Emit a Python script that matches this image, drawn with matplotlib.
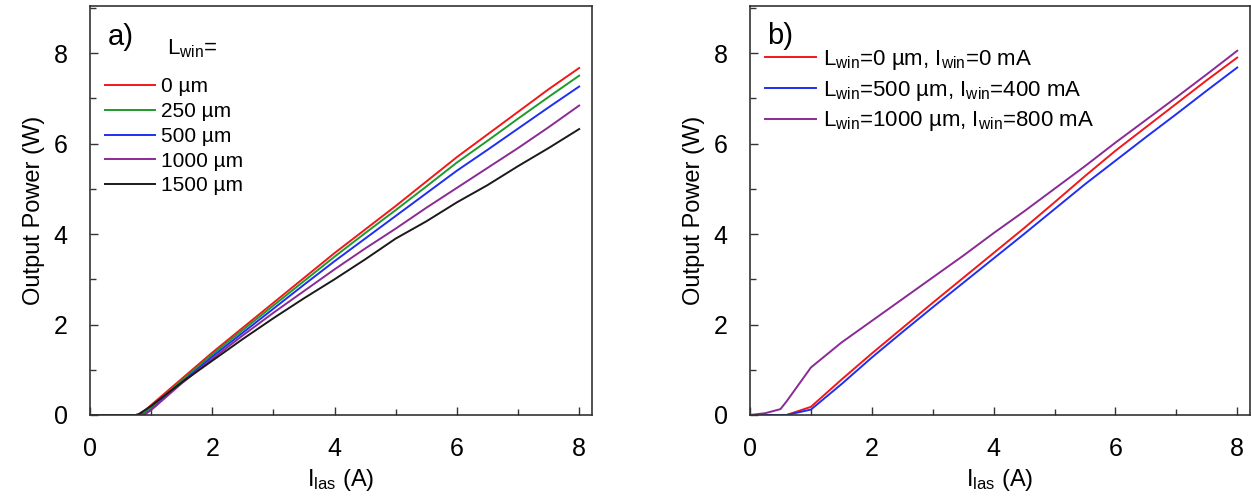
import matplotlib
matplotlib.use("Agg")
import matplotlib.pyplot as plt
from matplotlib.ticker import MultipleLocator

plt.rcParams['font.family'] = ['Liberation Sans', 'DejaVu Sans']
plt.rcParams['mathtext.fontset'] = 'custom'
plt.rcParams['mathtext.rm'] = 'Liberation Sans'
plt.rcParams['mathtext.it'] = 'Liberation Sans'
plt.rcParams['mathtext.default'] = 'regular'

# ---------------- Panel a data ----------------
x_a = [0, 0.5, 0.75, 0.8, 0.9, 1.0, 1.5, 2, 2.5, 3, 3.5, 4, 4.5, 5, 5.5, 6, 6.5, 7, 7.5, 8]
p_0um    = [0, 0, 0, 0.02, 0.10, 0.22, 0.80, 1.38, 1.93, 2.48, 3.03, 3.58, 4.10, 4.62, 5.16, 5.70, 6.20, 6.70, 7.20, 7.67]
p_250um  = [0, 0, 0, 0, 0.06, 0.17, 0.76, 1.34, 1.88, 2.42, 2.96, 3.50, 4.02, 4.53, 5.05, 5.58, 6.06, 6.55, 7.03, 7.50]
p_500um  = [0, 0, 0, 0, 0.02, 0.12, 0.72, 1.29, 1.82, 2.35, 2.88, 3.40, 3.90, 4.40, 4.90, 5.40, 5.86, 6.33, 6.80, 7.26]
p_1000um = [0, 0, 0, 0, 0.02, 0.11, 0.70, 1.24, 1.76, 2.26, 2.74, 3.22, 3.68, 4.12, 4.58, 5.02, 5.46, 5.90, 6.36, 6.84]
p_1500um = [0, 0, 0, 0.02, 0.11, 0.20, 0.72, 1.20, 1.68, 2.14, 2.58, 3.00, 3.44, 3.90, 4.28, 4.70, 5.08, 5.50, 5.90, 6.32]
labels_a = ['0 µm', '250 µm', '500 µm', '1000 µm', '1500 µm']
colors_a = ['#f01818', '#1e9a2a', '#1f2ff0', '#8a2a95', '#1a1a1a']

# ---------------- Panel b data ----------------
x_b = [0, 0.25, 0.5, 0.6, 1.0, 1.5, 2, 2.5, 3, 3.5, 4, 4.5, 5, 5.5, 6, 6.5, 7, 7.5, 8]
p_b_red    = [0, 0, 0, 0, 0.18, 0.78, 1.36, 1.92, 2.48, 3.03, 3.58, 4.13, 4.70, 5.28, 5.84, 6.36, 6.88, 7.40, 7.90]
p_b_blue   = [0, 0, 0, 0, 0.12, 0.68, 1.27, 1.83, 2.38, 2.92, 3.46, 4.00, 4.55, 5.10, 5.62, 6.14, 6.65, 7.17, 7.68]
p_b_purple = [0, 0.04, 0.13, 0.30, 1.05, 1.60, 2.08, 2.56, 3.04, 3.52, 4.02, 4.50, 5.00, 5.50, 6.02, 6.52, 7.02, 7.53, 8.05]
labels_b = [r'L$_{win}$=0 µm, I$_{win}$=0 mA',
            r'L$_{win}$=500 µm, I$_{win}$=400 mA',
            r'L$_{win}$=1000 µm, I$_{win}$=800 mA']
colors_b = ['#f01818', '#1f2ff0', '#8a2a95']

W, H = 1251, 496
fig = plt.figure(figsize=(W / 100, H / 100), dpi=100)

def make_axes(left, right):
    ax = fig.add_axes([left / W, 1 - 415 / H, (right - left) / W, (415 - 6) / H])
    ax.set_xlim(0, 8.21)
    ax.set_ylim(0, 9.04)
    ax.xaxis.set_major_locator(MultipleLocator(2))
    ax.xaxis.set_minor_locator(MultipleLocator(1))
    ax.yaxis.set_major_locator(MultipleLocator(2))
    ax.yaxis.set_minor_locator(MultipleLocator(1))
    ax.tick_params(which='both', direction='in', top=False, right=False, labelsize=18, color='#333333')
    ax.tick_params(which='major', length=6, width=1.0, pad=16)
    ax.tick_params(which='minor', length=4, width=1.0)
    for s in ax.spines.values():
        s.set_linewidth(1.2)
        s.set_color('#333333')
    ax.set_xlabel(r'I$_{las}$ (A)', fontsize=17, labelpad=4)
    ax.set_ylabel('Output Power (W)', fontsize=17, labelpad=6)
    return ax

ax1 = make_axes(90, 592)
series_a = [p_0um, p_250um, p_500um, p_1000um, p_1500um]
for ys, lab, c in zip(series_a, labels_a, colors_a):
    ax1.plot(x_a, ys, color=c, lw=1.4, label=lab)
ax1.text(0.035, 0.958, 'a)', transform=ax1.transAxes, fontsize=21, va='top', ha='left')
ax1.text(0.153, 0.895, r'L$_{win}$=', transform=ax1.transAxes, fontsize=16, va='center', ha='left')
ax1.legend(loc='upper left', bbox_to_anchor=(0.03, 0.826), frameon=False, fontsize=15,
           handlelength=2.4, handletextpad=0.3, labelspacing=0.28, borderpad=0, borderaxespad=0)

ax2 = make_axes(750, 1250)
series_b = [p_b_red, p_b_blue, p_b_purple]
for ys, lab, c in zip(series_b, labels_b, colors_b):
    ax2.plot(x_b, ys, color=c, lw=1.4, label=lab)
ax2.text(0.035, 0.962, 'b)', transform=ax2.transAxes, fontsize=21, va='top', ha='left')
ax2.legend(loc='upper left', bbox_to_anchor=(0.03, 0.897), frameon=False, fontsize=16,
           handlelength=2.3, handletextpad=0.3, labelspacing=0.3, borderpad=0, borderaxespad=0)

fig.savefig('out.png', dpi=100)
